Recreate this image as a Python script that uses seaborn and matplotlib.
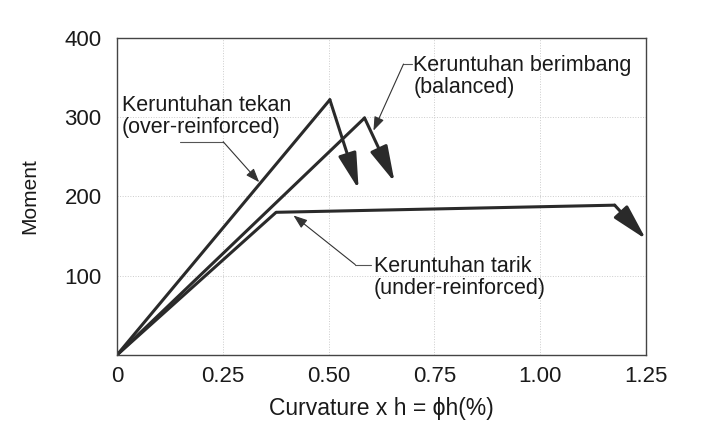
"""Momen - kurvatur: tiga jenis keruntuhan balok"""

import numpy as np
import pandas as pd
import matplotlib
matplotlib.use('Agg')
import matplotlib.pyplot as plt
import seaborn as sns

# data kurva (x = curvature x h, y = moment)
over_x = [0.0, 0.503, 0.571]
over_y = [0, 322, 209]
bal_x = [0.0, 0.585, 0.656]
bal_y = [0, 299, 218]
under_x = [0.0, 0.376, 1.176, 1.25]
under_y = [0, 180, 189, 146]

x_ticks = [0, 0.25, 0.50, 0.75, 1.00, 1.25]
x_ticklabels = ['0', '0.25', '0.50', '0.75', '1.00', '1.25']
y_ticks = [100, 200, 300, 400]
y_ticklabels = ['100', '200', '300', '400']

label_over = 'Keruntuhan tekan\n(over-reinforced)'
label_bal = 'Keruntuhan berimbang\n(balanced)'
label_under = 'Keruntuhan tarik\n(under-reinforced)'

sns.set_style('white')
plt.rcParams['font.family'] = ['Liberation Sans', 'DejaVu Sans']

fig = plt.figure(figsize=(7.06, 4.26), dpi=100)
ax = fig.add_axes([0.1657, 0.1667, 0.7493, 0.7443])

LINE = '#2a2a2a'


def draw_curve(xs, ys):
    df = pd.DataFrame({'x': xs[:-1], 'y': ys[:-1]})
    sns.lineplot(data=df, x='x', y='y', sort=False, color=LINE, lw=2.2, ax=ax)
    # segmen terakhir = panah keruntuhan
    ax.annotate('', xy=(xs[-1], ys[-1]), xytext=(xs[-2], ys[-2]),
                arrowprops=dict(arrowstyle='-|>,head_length=1.1,head_width=0.28',
                                color=LINE, lw=2.2, mutation_scale=20,
                                shrinkA=0, shrinkB=0))


draw_curve(over_x, over_y)
draw_curve(bal_x, bal_y)
draw_curve(under_x, under_y)


def leader(text, text_xy, path, tip):
    ax.text(*text_xy, text, fontsize=15.5, color='#1a1a1a',
            va='top', ha='left', linespacing=1.05)
    ax.plot([p[0] for p in path], [p[1] for p in path],
            color='#555555', lw=0.8)
    ax.annotate('', xy=tip, xytext=path[-1],
                arrowprops=dict(arrowstyle='-|>,head_length=0.6,head_width=0.22',
                                color='#333333', lw=0.8, mutation_scale=14,
                                shrinkA=0, shrinkB=0))


leader(label_over, (0.012, 328), [(0.149, 269), (0.251, 269)], (0.336, 218))
leader(label_bal, (0.700, 378), [(0.698, 367), (0.677, 367)], (0.606, 283))
leader(label_under, (0.607, 125), [(0.601, 114), (0.563, 114)], (0.417, 176))

ax.set_xlim(0, 1.25)
ax.set_ylim(0, 400)
ax.set_xticks(x_ticks)
ax.set_xticklabels(x_ticklabels)
ax.set_yticks(y_ticks)
ax.set_yticklabels(y_ticklabels)
ax.tick_params(axis='x', length=0, pad=8, labelsize=16, colors='#1a1a1a')
ax.tick_params(axis='y', length=0, pad=11, labelsize=16, colors='#1a1a1a')

ax.grid(True, color='#cccccc', lw=0.7, ls=':')
for s in ax.spines.values():
    s.set_visible(True)
    s.set_color('#444444')
    s.set_linewidth(1.0)

ax.set_xlabel('Curvature x h = ϕh(%)', fontsize=16.5, labelpad=7, color='#1a1a1a')
ax.set_ylabel('Moment', fontsize=15, labelpad=18, color='#1a1a1a')

fig.savefig('out.png', dpi=100)
